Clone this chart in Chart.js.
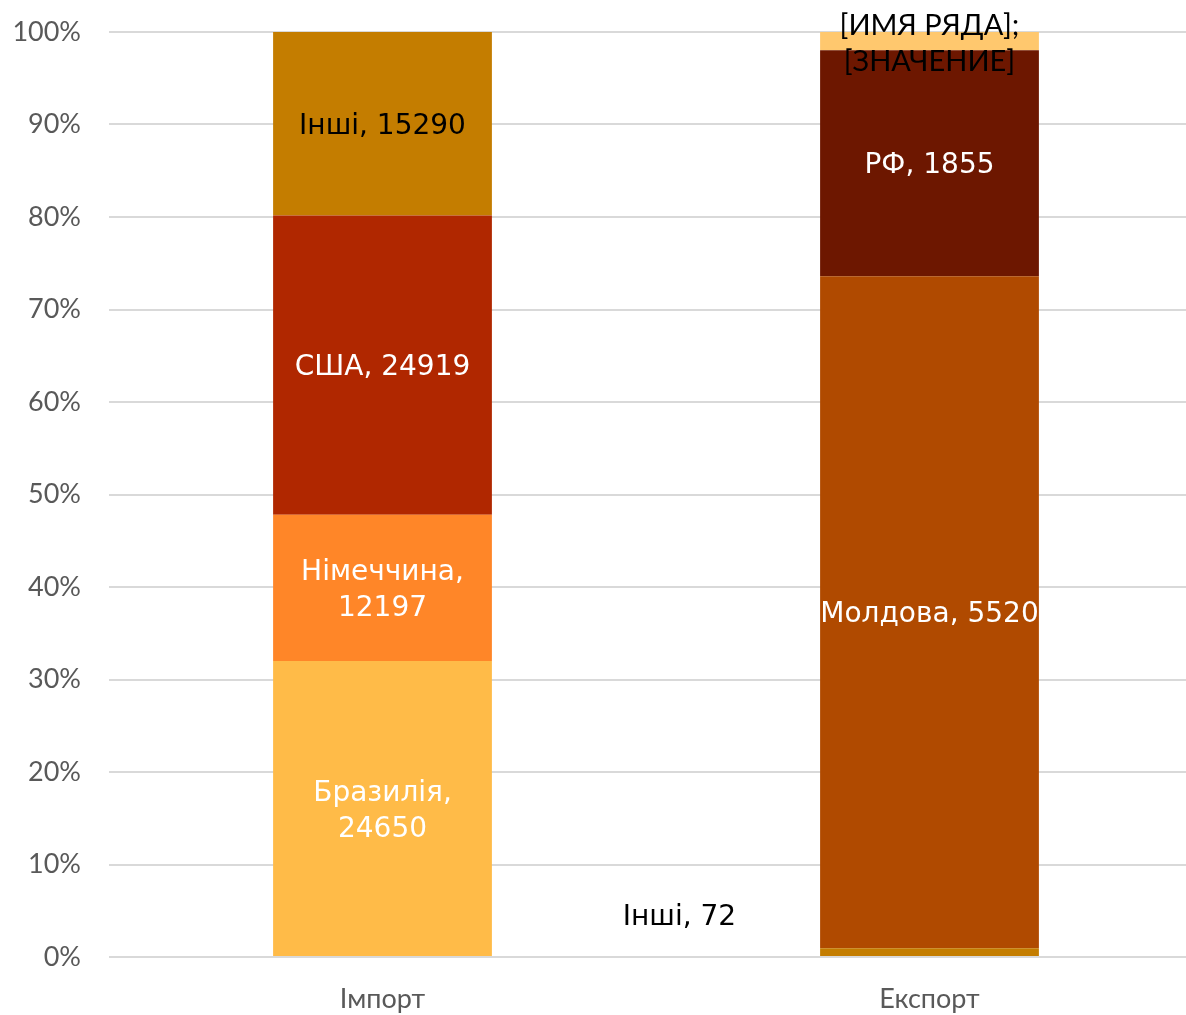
<!DOCTYPE html>
<html>
<head>
<meta charset="utf-8">
<script src="https://cdn.jsdelivr.net/npm/chart.js@4/dist/chart.umd.min.js"></script>
<style>
  html, body { margin: 0; padding: 0; background: #fff; overflow: hidden; }
  #wrap { width: 1203px; height: 1015px; position: relative; }
</style>
</head>
<body>
<div id="wrap"><canvas id="c"></canvas></div>
<script>
const categories = ['Імпорт', 'Експорт'];

const importNames = ['Бразилія', 'Німеччина', 'США', 'Інші'];
const importValues = [24650, 12197, 24919, 15290];

const exportNames = ['Інші', 'Молдова', 'РФ', '[ИМЯ РЯДА]'];
const exportValues = [72, 5520, 1855, 150];

const yTickValues = [0, 10, 20, 30, 40, 50, 60, 70, 80, 90, 100];

// styling
const importColors = ['#FFBB48', '#FF8628', '#B02700', '#C47D00'];
const exportColors = ['#C47D00', '#B04A00', '#6D1700', '#FFC86E'];
const importLabelStyle = [
  { wrap: true, color: '#ffffff' },
  { wrap: true, color: '#ffffff' },
  { wrap: false, color: '#ffffff' },
  { wrap: false, color: '#000000' }
];
const exportLabelStyle = [
  { wrap: false, color: '#000000', outside: true },
  { wrap: false, color: '#ffffff' },
  { wrap: false, color: '#ffffff' },
  { wrap: true, color: '#000000', placeholder: true }
];

const importTotal = importValues.reduce((a, b) => a + b, 0);
const exportTotal = exportValues.reduce((a, b) => a + b, 0);

const datasets = [];
importNames.forEach((n, i) => {
  datasets.push({
    label: n,
    data: [importValues[i] / importTotal * 100, null],
    raw: [importValues[i], null],
    backgroundColor: importColors[i],
    lbl: importLabelStyle[i],
    stack: 's'
  });
});
exportNames.forEach((n, i) => {
  datasets.push({
    label: n,
    data: [null, exportValues[i] / exportTotal * 100],
    raw: [null, exportValues[i]],
    backgroundColor: exportColors[i],
    lbl: exportLabelStyle[i],
    stack: 's'
  });
});

const DATA_FONT = '28px "DejaVu Sans", sans-serif';
const PH_FONT = '29px Lato, sans-serif';

const labelPlugin = {
  id: 'segLabels',
  afterDatasetsDraw(chart) {
    const ctx = chart.ctx;
    chart.data.datasets.forEach((ds, di) => {
      const meta = chart.getDatasetMeta(di);
      meta.data.forEach((el, idx) => {
        const raw = ds.raw[idx];
        if (raw === null || raw === undefined) return;
        const st = ds.lbl;
        let lines;
        if (st.placeholder) {
          lines = ['[ИМЯ РЯДА];', '[ЗНАЧЕНИЕ]'];
        } else if (st.wrap) {
          lines = [ds.label + ',', String(raw)];
        } else {
          lines = [ds.label + ', ' + raw];
        }
        const props = el.getProps(['x', 'y', 'base', 'width'], true);
        let cx = props.x;
        let cy = (props.y + props.base) / 2 + 3;
        ctx.save();
        ctx.font = st.placeholder ? PH_FONT : DATA_FONT;
        ctx.fillStyle = st.color;
        ctx.textBaseline = 'middle';
        ctx.textAlign = 'center';
        if (st.outside) {
          ctx.textAlign = 'right';
          cx = props.x - props.width / 2 - 84;
          cy = cy - 37;
        }
        const lh = 36;
        const y0 = cy - (lines.length - 1) * lh / 2;
        lines.forEach((t, k) => ctx.fillText(t, cx, y0 + k * lh));
        ctx.restore();
      });
    });
  }
};

new Chart(document.getElementById('c'), {
  type: 'bar',
  data: { labels: categories, datasets },
  options: {
    responsive: true,
    maintainAspectRatio: false,
    animation: false,
    layout: { padding: { top: 32, right: 0, left: 0, bottom: 0 } },
    plugins: { legend: { display: false }, tooltip: { enabled: false } },
    datasets: { bar: { categoryPercentage: 1.0, barPercentage: 0.40 } },
    scales: {
      x: {
        stacked: true,
        grid: { display: false },
        border: { display: false },
        ticks: { color: '#595959', font: { family: 'Lato, sans-serif', size: 27 }, padding: 18 },
        afterFit(s) { s.height = 58; s.paddingLeft = 0; s.paddingRight = 0; }
      },
      y: {
        stacked: true,
        min: 0, max: 100,
        afterBuildTicks(s) { s.ticks = yTickValues.map(v => ({ value: v })); },
        grid: { color: '#d9d9d9', lineWidth: 2, drawTicks: false },
        border: { display: false },
        ticks: {
          color: '#595959',
          font: { family: 'Lato, sans-serif', size: 27 },
          padding: 28,
          callback: v => v + '%'
        },
        afterFit(s) { s.width = 109; s.paddingTop = 0; s.paddingBottom = 0; }
      }
    }
  },
  plugins: [labelPlugin]
});
</script>
</body>
</html>
